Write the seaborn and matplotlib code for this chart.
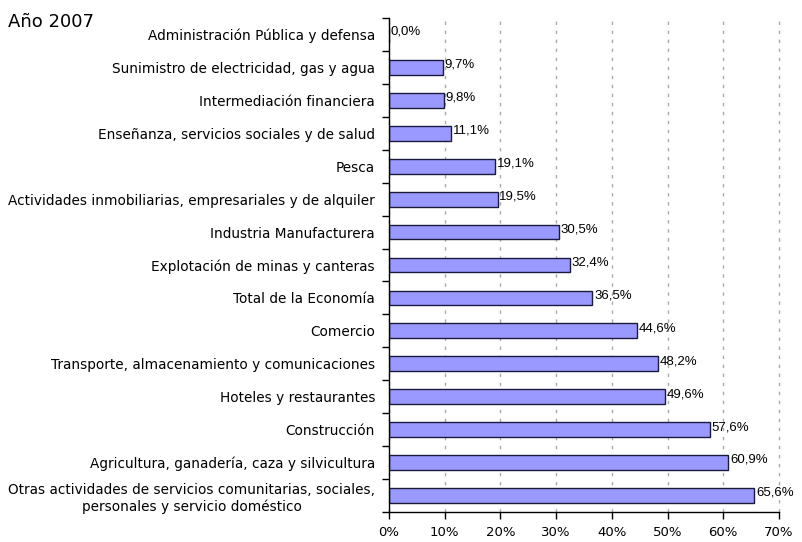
import matplotlib
matplotlib.use('Agg')
import matplotlib.pyplot as plt
import pandas as pd
import seaborn as sns

sectores = [
    'Administración Pública y defensa',
    'Sunimistro de electricidad, gas y agua',
    'Intermediación financiera',
    'Enseñanza, servicios sociales y de salud',
    'Pesca',
    'Actividades inmobiliarias, empresariales y de alquiler',
    'Industria Manufacturera',
    'Explotación de minas y canteras',
    'Total de la Economía',
    'Comercio',
    'Transporte, almacenamiento y comunicaciones',
    'Hoteles y restaurantes',
    'Construcción',
    'Agricultura, ganadería, caza y silvicultura',
    'Otras actividades de servicios comunitarias, sociales,\npersonales y servicio doméstico',
]
porcentajes = [0.0, 9.7, 9.8, 11.1, 19.1, 19.5, 30.5, 32.4, 36.5, 44.6, 48.2, 49.6, 57.6, 60.9, 65.6]
x_ticks = [0, 10, 20, 30, 40, 50, 60, 70]

df = pd.DataFrame({'sector': sectores, 'pct': porcentajes})

sns.set_style('white')
plt.rcParams['font.family'] = ['DejaVu Sans']
plt.rcParams['text.color'] = 'black'

fig = plt.figure(figsize=(8.03, 5.42), dpi=100)
ax = fig.add_axes([389 / 803, (542 - 512) / 542, (779 - 389) / 803, (512 - 18) / 542])

sns.barplot(data=df, x='pct', y='sector', orient='h', color='#9999ff',
            saturation=1, width=0.45, edgecolor='#1a1a40', linewidth=1.0, ax=ax)

ax.set_xlim(0, 70)
ax.set_ylim(14.5, -0.23)
ax.set_xticks(x_ticks)
ax.set_xticklabels([f'{t}%' for t in x_ticks], fontsize=9.5, color='black')
ax.tick_params(axis='x', bottom=True, direction='out', length=5, width=1, color='black', pad=5)
ax.tick_params(axis='y', which='major', left=False, length=0, pad=10, labelsize=9.8, labelcolor='black')
ax.set_yticks([i + 0.5 for i in range(-1, 15)], minor=True)
ax.tick_params(axis='y', which='minor', left=True, direction='out', length=5, width=1, color='black')
for lbl in ax.get_yticklabels():
    lbl.set_multialignment('center')

ax.xaxis.grid(True, linestyle=(0, (2.5, 4)), color='#aaaaaa', linewidth=1.0)
ax.set_axisbelow(True)
for s in ['top', 'right']:
    ax.spines[s].set_visible(False)
for s in ['left', 'bottom']:
    ax.spines[s].set_color('black')
    ax.spines[s].set_linewidth(1)
for gl in ax.get_xgridlines():
    gl.set_clip_on(False)

ax.set_xlabel('')
ax.set_ylabel('')

for i, v in enumerate(porcentajes):
    ax.text(v + 0.3, i - 0.08, f'{v:.1f}%'.replace('.', ','), va='center', ha='left',
            fontsize=9.5, family='Liberation Sans', color='black')

fig.text(8 / 803, 1 - 22 / 542, 'Año 2007', fontsize=13, va='center', ha='left')

fig.savefig('out.png', dpi=100)
